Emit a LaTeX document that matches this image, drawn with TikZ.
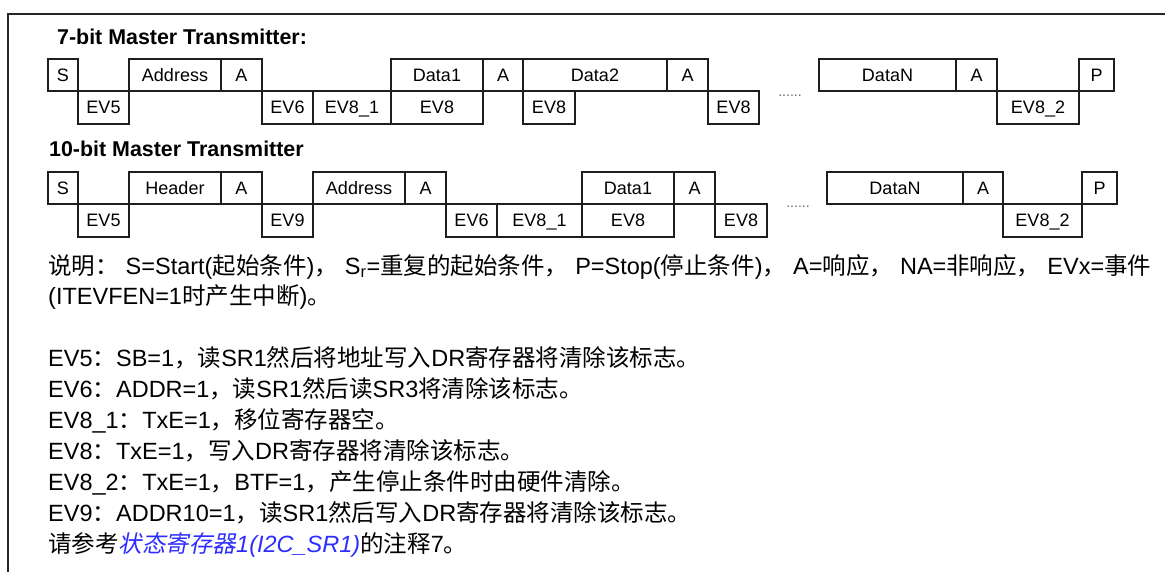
\documentclass[tikz,border=0pt]{standalone}
\usepackage{fontspec}
\setmainfont{Liberation Sans}
\newfontfamily\cjk{Noto Sans CJK SC}
\newfontfamily\cjkit[FakeSlant=0.2]{Noto Sans CJK SC}
\definecolor{linkblue}{RGB}{45,45,255}
\definecolor{lineclr}{RGB}{30,30,30}
\newcommand\cellat[6]{%
  \pgfmathsetmacro\cellw{#3-#2}%
  \pgfmathsetmacro\cellh{#5-#4}%
  \node[cellbox, minimum width=\cellw pt, minimum height=\cellh pt] (#1) at ({(#2+#3)/2},{(#4+#5)/2}) {#6};}
\newcommand\cjkgap{\hspace{7pt}}
\begin{document}
\begin{tikzpicture}[x=1pt,y=-1pt,
  cellbox/.style={draw=lineclr, line width=1.1pt, rectangle, inner sep=0pt,
    font=\fontsize{18}{18}\selectfont, text height=13pt, text depth=0pt},
  titletext/.style={anchor=base west, inner sep=0pt, font=\fontsize{21.4}{22}\selectfont\bfseries},
  bodytext/.style={anchor=base west, inner sep=0pt, font=\fontsize{23.5}{26}\selectfont},
  dotstext/.style={inner sep=0pt, text=black!60, font=\fontsize{14}{14}\selectfont},
  frameline/.style={draw=black!85, line width=2pt}]
\useasboundingbox (0,0) rectangle (1165,572);
% frame
\coordinate (fbl) at (8,572);
\coordinate (ftl) at (8,14);
\coordinate (ftr) at (1165,14);
\draw[frameline] (fbl) -- (ftl) -- (ftr);
% titles
\node[titletext] (t1) at (57,45) {7-bit Master Transmitter:};
\node[titletext] (t2) at (49,157) {10-bit Master Transmitter};
% row 1 upper
\cellat{a1}{48}{78}{59}{91}{S}
\cellat{a2}{129}{221}{59}{91}{Address}
\cellat{a3}{221}{262}{59}{91}{A}
\cellat{a4}{391}{483}{59}{91}{Data1}
\cellat{a5}{483}{523}{59}{91}{A}
\cellat{a6}{523}{667}{59}{91}{Data2}
\cellat{a7}{667}{708}{59}{91}{A}
\cellat{a8}{819}{956}{59}{91}{DataN}
\cellat{a9}{956}{997}{59}{91}{A}
\cellat{a10}{1079}{1114}{59}{91}{P}
% row 1 lower
\cellat{b1}{78}{129}{91}{124}{EV5}
\cellat{b2}{262}{313}{91}{124}{EV6}
\cellat{b3}{313}{391}{91}{124}{EV8\_1}
\cellat{b4}{391}{483}{91}{124}{EV8}
\cellat{b5}{523}{575}{91}{124}{EV8}
\cellat{b6}{708}{759}{91}{124}{EV8}
\cellat{b7}{997}{1079}{91}{124}{EV8\_2}
\node[dotstext] (d1) at (790,96) {......};
% row 2 upper
\cellat{c1}{48}{78}{172}{204}{S}
\cellat{c2}{129}{221}{172}{204}{Header}
\cellat{c3}{221}{262}{172}{204}{A}
\cellat{c4}{313}{405}{172}{204}{Address}
\cellat{c5}{405}{446}{172}{204}{A}
\cellat{c6}{582}{674}{172}{204}{Data1}
\cellat{c7}{674}{715}{172}{204}{A}
\cellat{c8}{827}{963}{172}{204}{DataN}
\cellat{c9}{963}{1003}{172}{204}{A}
\cellat{c10}{1082}{1117}{172}{204}{P}
% row 2 lower
\cellat{e1}{78}{129}{204}{237}{EV5}
\cellat{e2}{262}{313}{204}{237}{EV9}
\cellat{e3}{446}{497}{204}{237}{EV6}
\cellat{e4}{497}{582}{204}{237}{EV8\_1}
\cellat{e5}{582}{674}{204}{237}{EV8}
\cellat{e6}{715}{767}{204}{237}{EV8}
\cellat{e7}{1003}{1082}{204}{237}{EV8\_2}
\node[dotstext] (d2) at (798,207) {......};
% body text
\node[bodytext] (l1) at (48,274) {{\cjk 说明：}\cjkgap S=Start({\cjk 起始条件}){\cjk ，}\cjkgap S\textsubscript{r}={\cjk 重复的起始条件，}\cjkgap P=Stop({\cjk 停止条件}){\cjk ，}\cjkgap A={\cjk 响应，}\cjkgap NA={\cjk 非响应，}\cjkgap EVx={\cjk 事件}};
\node[bodytext] (l2) at (48,304) {(ITEVFEN=1{\cjk 时产生中断}){\cjk 。}};
\node[bodytext] (l3) at (48,366) {EV5{\cjk ：}SB=1{\cjk ，读}SR1{\cjk 然后将地址写入}DR{\cjk 寄存器将清除该标志。}};
\node[bodytext] (l4) at (48,397) {EV6{\cjk ：}ADDR=1{\cjk ，读}SR1{\cjk 然后读}SR3{\cjk 将清除该标志。}};
\node[bodytext] (l5) at (48,428) {EV8\_1{\cjk ：}TxE=1{\cjk ，移位寄存器空。}};
\node[bodytext] (l6) at (48,459) {EV8{\cjk ：}TxE=1{\cjk ，写入}DR{\cjk 寄存器将清除该标志。}};
\node[bodytext] (l7) at (48,490) {EV8\_2{\cjk ：}TxE=1{\cjk ，}BTF=1{\cjk ，产生停止条件时由硬件清除。}};
\node[bodytext] (l8) at (48,521) {EV9{\cjk ：}ADDR10=1{\cjk ，读}SR1{\cjk 然后写入}DR{\cjk 寄存器将清除该标志。}};
\node[bodytext] (l9) at (48,552) {{\cjk 请参考}{\color{linkblue}{\cjkit 状态寄存器}\itshape 1(I2C\_SR1)}{\cjk 的注释}7{\cjk 。}};
\end{tikzpicture}
\end{document}
